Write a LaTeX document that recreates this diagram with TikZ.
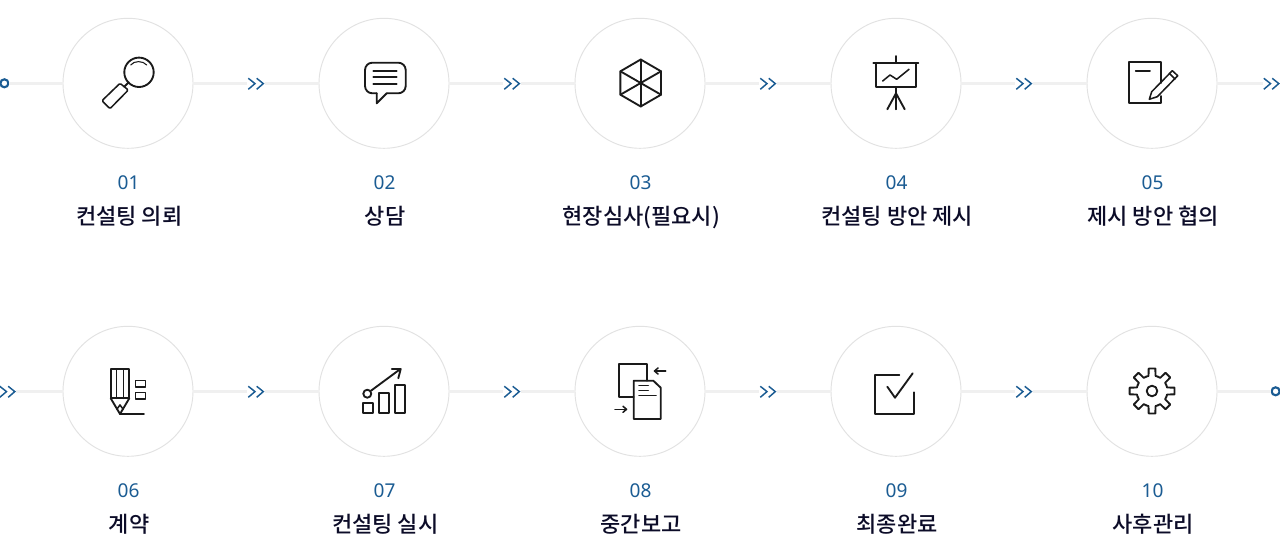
\documentclass[tikz,border=0pt]{standalone}
\usepackage{fontspec}
\setmainfont{Noto Sans}
\newfontfamily\cjk{Noto Sans CJK KR Medium}
\definecolor{ringc}{HTML}{E2E2E2}
\definecolor{linec}{HTML}{F0F0F0}
\definecolor{bluec}{HTML}{1B5C93}
\definecolor{titlec}{HTML}{0C0C28}
\definecolor{inkc}{HTML}{1A1A1A}
\tikzset{
  ring/.style={circle,draw=ringc,line width=0.7pt,fill=white,minimum size=97.5pt,inner sep=0pt},
  conn/.style={draw=linec,line width=2.25pt},
  chevbox/.style={inner sep=0pt,minimum size=13pt},
  chevline/.style={draw=bluec,line width=1.1pt},
  enddot/.style={circle,draw=bluec,line width=1.6pt,fill=white,minimum size=6pt,inner sep=0pt},
  numtext/.style={anchor=base,text=bluec,font=\fontsize{14.3pt}{16pt}\selectfont},
  titletext/.style={anchor=base,text=titlec,font=\cjk\fontsize{16.5pt}{19pt}\selectfont},
  ico/.style={draw=inkc,line width=1.4pt,line join=round,line cap=round},
  thin ico/.style={line width=1.15pt},
}
\newcommand{\chevat}[1]{%
  \draw[chevline] ($(#1)+(-7.7,-5)$) -- ($(#1)+(-1,0.3)$) -- ($(#1)+(-7.7,6)$);
  \draw[chevline] ($(#1)+(0.7,-5)$) -- ($(#1)+(7.3,0.3)$) -- ($(#1)+(0.7,6)$);
}
\usetikzlibrary{calc}
\begin{document}
\begin{tikzpicture}[x=0.75pt,y=-0.75pt]
\useasboundingbox (0,0) rectangle (1280,556);
\fill[white] (0,0) rectangle (1280,556);
% rings, numbers, titles
\foreach \i/\px/\py/\num/\ttl in {
 1/128/83/01/컨설팅 의뢰, 2/384/83/02/상담, 3/640/83/03/현장심사(필요시), 4/896/83/04/컨설팅 방안 제시, 5/1152/83/05/제시 방안 협의,
 6/128/391/06/계약, 7/384/391/07/컨설팅 실시, 8/640/391/08/중간보고, 9/896/391/09/최종완료, 10/1152/391/10/사후관리}{
  \node[ring] (c\i) at (\px,\py+0.3) {};
  \node[numtext] (n\i) at (\px+0.5,\py+106) {\num};
  \node[titletext] (t\i) at (\px+1.2,\py+141) {\ttl};
}
% chevron anchors
\foreach \i/\px/\py in {1/256/83.3,2/512/83.3,3/768/83.3,4/1024/83.3,5/1271.5/83.3,
  0/7.5/391.3,6/256/391.3,7/512/391.3,8/768/391.3,9/1024/391.3}{
  \node[chevbox] (a\i) at (\px,\py) {};
}
\node[enddot] (s) at (4.4,83.3) {};
\node[enddot] (e) at (1275.6,391.3) {};
% connectors
\draw[conn] (s) -- (c1);
\draw[conn] (a0) -- (c6);
\draw[conn] (c10) -- (e);
\foreach \u/\v/\w in {1/1/2,2/2/3,3/3/4,4/4/5}{
  \draw[conn] (c\u) -- (a\v);
  \draw[conn] (a\v) -- (c\w);
}
\draw[conn] (c5) -- (a5);
\foreach \u/\v/\w in {6/6/7,7/7/8,8/8/9,9/9/10}{
  \draw[conn] (c\u) -- (a\v);
  \draw[conn] (a\v) -- (c\w);
}
\foreach \v in {0,1,2,3,4,5,6,7,8,9}{\chevat{a\v}}
% 01 magnifier
\begin{scope}[shift={(128,83)},ico]
  \draw (11,-10.7) circle (14.7);
  \draw[line width=0.8pt] (2.7,-18) .. controls (6,-22.5) and (15,-22.5) .. (18.7,-18);
  \draw[thin ico,rounded corners=1pt] (-8,0.3) -- (0.3,7) -- (-18,25.7) -- (-26,17.7) -- cycle;
  \draw (-3.7,3.7) -- (0.7,-0.7);
\end{scope}
% 02 speech bubble
\begin{scope}[shift={(384,83)},ico]
  \draw[rounded corners=5.5pt] (-7.3,10.3) -- (-19,10.3) -- (-19,-20.3) -- (21.7,-20.3) -- (21.7,10.3) -- (2.7,10.3);
  \draw (2.7,10.3) -- (-7.3,20.3) -- (-7.3,10.3);
  \draw (-10.7,-12) -- (12.7,-12);
  \draw (-10.7,-5.7) -- (12.7,-5.7);
  \draw (-10.7,1) -- (12.7,1);
\end{scope}
% 03 hexagon
\begin{scope}[shift={(640.7,83)},ico]
  \draw (0,-23.5) -- (20.3,-11.7) -- (20.3,11.7) -- (0,23.5) -- (-20.3,11.7) -- (-20.3,-11.7) -- cycle;
  \draw (0,-23.5) -- (0,23.5);
  \draw (-20.3,-11.7) -- (20.3,11.7);
  \draw (-20.3,11.7) -- (20.3,-11.7);
\end{scope}
% 04 presentation
\begin{scope}[shift={(896,83)},ico]
  \draw (-22.7,-20) -- (22.3,-20);
  \draw (0,-27) -- (0,-20);
  \draw (-19.7,-20) -- (-19.7,4.3) -- (19.7,4.3) -- (19.7,-20);
  \draw[thin ico] (-13.3,-2) -- (-6,-8) -- (0.7,-3.7) -- (13,-13.7);
  \draw (0,4.3) -- (0,26.3);
  \draw (0,10.3) -- (-8.7,26.3);
  \draw (0,10.3) -- (8.7,26.3);
\end{scope}
% 05 note and pencil
\begin{scope}[shift={(1152,83)},ico]
  \draw (9,0) -- (9,-21.3) -- (-23.3,-21.3) -- (-23.3,19.7) -- (9,19.7) -- (9,13);
  \draw (-16.3,-12) -- (-2,-12);
  \draw[thin ico] (-0.3,8.7) -- (20.3,-12.3) -- (25.7,-7.3) -- (5.3,13.7) -- (-2.7,16.3) -- cycle;
  \draw[thin ico] (17.3,-9.7) -- (23,-4);
\end{scope}
% 06 pencil with boxes
\begin{scope}[shift={(128,391)},ico]
  \draw (-17.3,7.3) -- (-17.3,-21.7) -- (1.3,-21.7) -- (1.3,7.3) -- cycle;
  \draw[thin ico] (-11.3,-21.7) -- (-11.3,7.3);
  \draw[thin ico] (-4.7,-21.7) -- (-4.7,7.3);
  \draw (-17.3,7.3) -- (-8,23) -- (1.3,7.3);
  \draw[thin ico] (-11,18) -- (-8,14) -- (-5,18);
  \draw (-8,23) -- (16,23);
  \draw[thin ico] (7.3,-10.7) rectangle (17.3,-4);
  \draw[thin ico] (7.3,1.3) rectangle (17.3,8);
\end{scope}
% 07 growth chart
\begin{scope}[shift={(384,391)},ico]
  \draw (-21.3,11.7) rectangle (-11.3,21.7);
  \draw (-5,2.3) rectangle (5,21.7);
  \draw (11.3,-6) rectangle (21.3,21.7);
  \draw (-16.7,2.7) circle (4);
  \draw (-13,-0.3) -- (16,-21.7);
  \draw (7.7,-22) -- (16.7,-22) -- (14.3,-12.7);
\end{scope}
% 08 documents
\begin{scope}[shift={(640,391)},ico]
  \draw (-6.3,6.3) -- (-21,6.3) -- (-21,-27) -- (7.3,-27) -- (7.3,-10.3);
  \draw (-6.3,-10.3) -- (13.3,-10.3) -- (20.7,-3.3) -- (20.7,28) -- (-6.3,28) -- cycle;
  \draw[thin ico] (-1,-5.3) -- (8.3,-5.3);
  \draw[thin ico] (-1,-0.3) -- (8.3,-0.3);
  \draw[thin ico] (-1,4.7) -- (16,4.7);
  \draw[thin ico] (25.7,-20) -- (15,-20);
  \draw[thin ico] (18,-23) -- (14.5,-20) -- (18,-17);
  \draw[thin ico] (-25,18.3) -- (-14,18.3);
  \draw[thin ico] (-17,15.3) -- (-13.5,18.3) -- (-17,21.3);
\end{scope}
% 09 check box
\begin{scope}[shift={(896,391)},ico]
  \draw (3.3,-16) -- (-21,-16) -- (-21,23) -- (18,23) -- (18,1.3);
  \draw (-8.7,-4.3) -- (-1,6.7) -- (16.7,-17.7);
\end{scope}
% 10 gear
\begin{scope}[shift={(1152,391)},ico]
  \foreach \a in {0,45,...,315}{
    \draw ($(\a-22.5:15.5)$) -- ($(\a-13:15.5)$) -- ($(\a-8.5:22.7)$) -- ($(\a+8.5:22.7)$) -- ($(\a+13:15.5)$) -- ($(\a+22.5:15.5)$);
  }
  \draw (0,0) circle (5.3);
\end{scope}
\end{tikzpicture}
\end{document}
